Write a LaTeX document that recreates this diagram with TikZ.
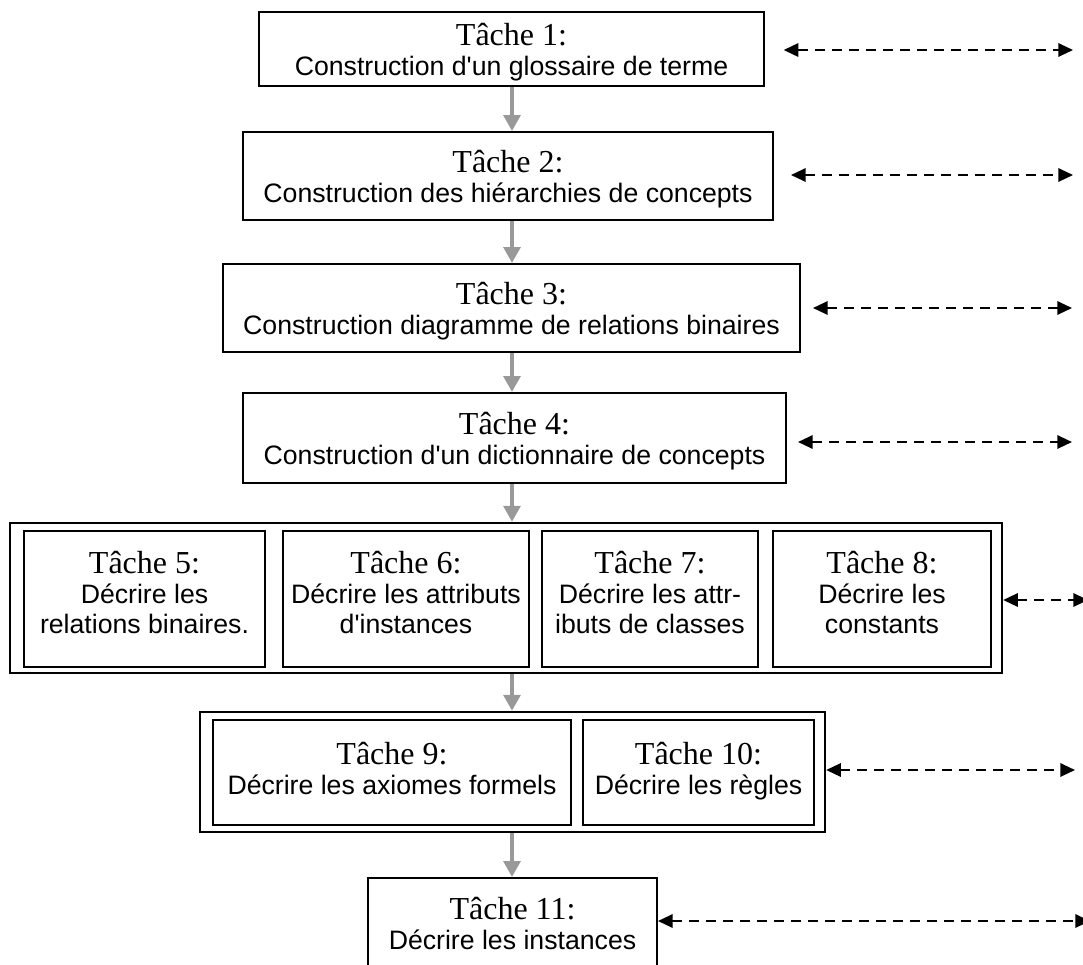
\documentclass[tikz,border=0pt]{standalone}
\usepackage{fontspec}
\setmainfont{Liberation Serif}
\newfontfamily\arialf{Liberation Sans}
\usetikzlibrary{arrows.meta}
\newcommand{\tline}[1]{{\fontsize{24}{22.5}\selectfont\rmfamily #1}}
\tikzset{
  box/.style={draw=black, line width=1.5pt, fill=white, inner sep=0pt, align=center,
    font=\arialf\fontsize{20}{22.5}\selectfont},
  mainbox/.style={box, text depth=0pt},
  grp/.style={draw=black, line width=1.8pt, inner sep=0pt},
  ibox/.style={box, line width=1.7pt},
  garrow/.style={draw=black!40, line width=3pt, -{Triangle[length=12pt,width=12.5pt]}},
  darrow/.style={draw=black, line width=1.6pt, dash pattern=on 7.5pt off 5.25pt,
    {Triangle[length=11pt,width=10pt]}-{Triangle[length=11pt,width=10pt]}}
}
\begin{document}
\begin{tikzpicture}[x=0.75pt,y=-0.75pt]
\clip (0,0) rectangle (1083,965);
\fill[white] (0,0) rectangle (1083,965);
\coordinate (ax) at (512,0);
% main chain
\node[mainbox, minimum width=378.75pt, minimum height=55.5pt] (b1) at (511.5,49)
  {\tline{Tâche 1:}\\Construction d\textquotesingle un glossaire de terme};
\node[mainbox, minimum width=397.5pt, minimum height=66pt] (b2) at (508,176)
  {\tline{Tâche 2:}\\Construction des hiérarchies de concepts};
\node[mainbox, minimum width=432.75pt, minimum height=66pt] (b3) at (511.5,308)
  {\tline{Tâche 3:}\\Construction diagramme de relations binaires};
\node[mainbox, minimum width=407.25pt, minimum height=67.5pt] (b4) at (514.5,438)
  {\tline{Tâche 4:}\\Construction d\textquotesingle un dictionnaire de concepts};
% group A
\node[grp, minimum width=744pt, minimum height=112.5pt] (ga) at (506,598) {};
\tikzset{every node/.append style={}}
\node[ibox, text depth=10.5pt, minimum width=180.75pt, minimum height=102pt] (t5) at (144.5,599)
  {\tline{Tâche 5:}\\Décrire les\\relations binaires.};
\node[ibox, text depth=10.5pt, minimum width=184.5pt, minimum height=102pt] (t6) at (406,599)
  {\tline{Tâche 6:}\\Décrire les attributs\\d\textquotesingle instances};
\node[ibox, text depth=10.5pt, minimum width=162pt, minimum height=102pt] (t7) at (650,599)
  {\tline{Tâche 7:}\\Décrire les attr-\\ibuts de classes};
\node[ibox, text depth=10.5pt, minimum width=163.5pt, minimum height=102pt] (t8) at (882,599)
  {\tline{Tâche 8:}\\Décrire les\\constants};
% group B
\node[grp, minimum width=468.75pt, minimum height=90pt] (gb) at (512.5,772) {};
\node[ibox, text depth=6pt, minimum width=268.5pt, minimum height=78.75pt] (t9) at (392,772.5)
  {\tline{Tâche 9:}\\Décrire les axiomes formels};
\node[ibox, text depth=6pt, minimum width=173.25pt, minimum height=78.75pt] (t10) at (698.5,772.5)
  {\tline{Tâche 10:}\\Décrire les règles};
% last
\node[box, minimum width=216.75pt, minimum height=67.5pt] (b11) at (512.5,923)
  {\tline{Tâche 11:}\\Décrire les instances};
% gray arrows
\draw[garrow] (b1.south -| ax) -- (b2.north -| ax);
\draw[garrow] (b2.south -| ax) -- (b3.north -| ax);
\draw[garrow] (b3.south -| ax) -- (b4.north -| ax);
\draw[garrow] (b4.south -| ax) -- (ga.north -| ax);
\draw[garrow] (ga.south -| ax) -- (gb.north -| ax);
\draw[garrow] (gb.south -| ax) -- (b11.north -| ax);
% right dashed arrows
\coordinate (r1) at (1073,50);
\coordinate (r2) at (1073,175);
\coordinate (r3) at (1072,308);
\coordinate (r4) at (1072,442);
\coordinate (r5) at (1088,600);
\coordinate (r6) at (1075,770);
\coordinate (r7) at (1090,921);
\draw[darrow, shorten <=14pt] (r1 -| b1.east) -- (r1);
\draw[darrow, shorten <=12.75pt] (r2 -| b2.east) -- (r2);
\draw[darrow, shorten <=9pt] (r3 -| b3.east) -- (r3);
\draw[darrow, shorten <=8.25pt] (r4 -| b4.east) -- (r4);
\draw[darrow] (r5 -| ga.east) -- (r5);
\draw[darrow] (r6 -| gb.east) -- (r6);
\draw[darrow] (r7 -| b11.east) -- (r7);
\end{tikzpicture}
\end{document}
